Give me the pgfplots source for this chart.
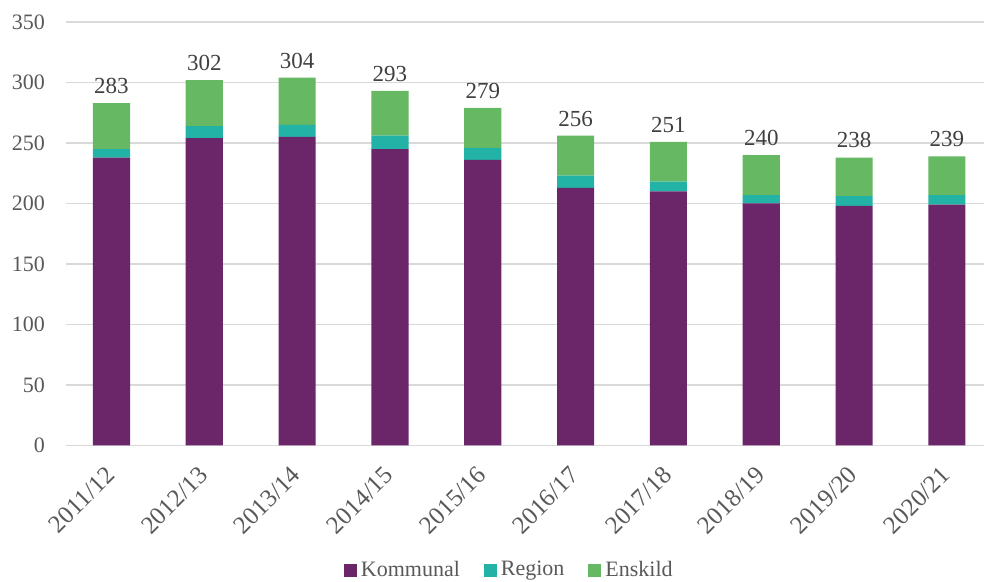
\documentclass[border=0pt]{standalone}
\usepackage{pgfplots}
\usepackage{pgfplotstable}
\pgfplotsset{compat=1.18}
\usepackage{fontspec}
\setmainfont{Liberation Serif}

\definecolor{komm}{RGB}{106,38,104}
\definecolor{regi}{RGB}{34,178,166}
\definecolor{ensk}{RGB}{102,184,98}
\definecolor{gridgray}{RGB}{217,217,217}
\definecolor{tickgray}{RGB}{89,89,89}
\definecolor{labgray}{RGB}{64,64,64}

% K = Kommunal, R = Region, E = Enskild, T = total
\pgfplotstableread{
x K R E T
0 238 7 38 283
1 254 10 38 302
2 255 10 39 304
3 245 11 37 293
4 236 10 33 279
5 213 10 33 256
6 210 8 33 251
7 200 7 33 240
8 198 8 32 238
9 199 8 32 239
}\data

\begin{document}
\begin{tikzpicture}
\useasboundingbox (0,0) rectangle (492pt,291pt);
\begin{axis}[
    at={(33pt,68.25pt)}, anchor=south west,
    scale only axis, width=459pt, height=211.75pt,
    ybar stacked, bar width=0.4,
    xmin=-0.49, xmax=9.4, ymin=0, ymax=350,
    ytick distance=50,
    xtick={0,...,9},
    xticklabels={2011/12,2012/13,2013/14,2014/15,2015/16,2016/17,2017/18,2018/19,2019/20,2020/21},
    axis line style={draw=none},
    major tick length=0pt,
    ymajorgrids, grid style={color=gridgray, line width=0.9pt},
    /pgf/number format/assume math mode=true,
    tick label style={font=\fontsize{11}{13}\selectfont, text=tickgray},
    yticklabel style={xshift=-7pt},
    xticklabel style={rotate=45, anchor=north east, font=\fontsize{12.5}{14}\selectfont, xshift=-6pt, yshift=-1pt},
    legend columns=3,
    legend style={draw=none, at={(0.484,-0.294)}, anchor=center,
        font=\fontsize{11}{13}\selectfont, text=tickgray,
        /tikz/every even column/.append style={column sep=10pt}},
    legend image code/.code={\fill[#1] (0pt,-3.25pt) rectangle (6.5pt,3.25pt);},
]
\addplot[fill=komm, draw=none] table[x=x, y=K] {\data};
\addplot[fill=regi, draw=none] table[x=x, y=R] {\data};
% stacked labels sit mid-segment: lift them by half the Enskild height
\addplot[fill=ensk, draw=none, nodes near coords, point meta=explicit,
    visualization depends on={\thisrow{E} \as \eh},
    nodes near coords align={anchor=south},
    every node near coord/.style={font=\fontsize{11.5}{13}\selectfont, text=labgray, inner sep=0pt, yshift={\eh*0.3025pt+4.5pt}}]
    table[x=x, y=E, meta=T] {\data};
\legend{Kommunal, Region, Enskild}
\end{axis}
\end{tikzpicture}
\end{document}
